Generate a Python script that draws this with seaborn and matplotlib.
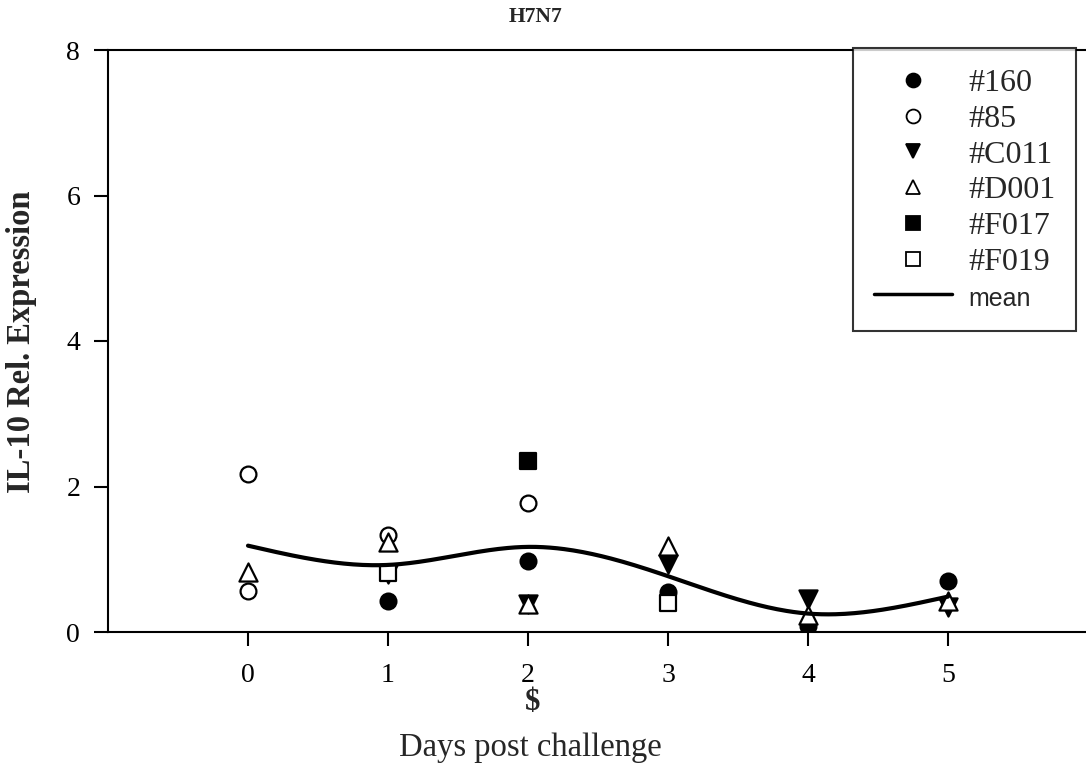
import numpy as np
import pandas as pd
import matplotlib
matplotlib.use("Agg")
import matplotlib.pyplot as plt
from matplotlib.lines import Line2D
import seaborn as sns

# IL-10 relative expression per animal and day after H7N7 challenge
animals = ["#160", "#85", "#C011", "#D001", "#F017", "#F019"]
days_160 = [1, 2, 3, 4, 5]
vals_160 = [0.43, 0.97, 0.55, 0.08, 0.70]
days_85 = [0, 0, 1, 2]
vals_85 = [2.17, 0.56, 1.33, 1.77]
days_c011 = [1, 2, 3, 4, 5]
vals_c011 = [0.80, 0.38, 0.94, 0.45, 0.34]
days_d001 = [0, 1, 2, 3, 4, 5]
vals_d001 = [0.83, 1.24, 0.38, 1.18, 0.23, 0.42]
days_f017 = [2]
vals_f017 = [2.35]
days_f019 = [1, 3]
vals_f019 = [0.81, 0.40]

x_ticks = [0, 1, 2, 3, 4, 5]
y_ticks = [0, 2, 4, 6, 8]

series = {
    "#160": (days_160, vals_160),
    "#85": (days_85, vals_85),
    "#C011": (days_c011, vals_c011),
    "#D001": (days_d001, vals_d001),
    "#F017": (days_f017, vals_f017),
    "#F019": (days_f019, vals_f019),
}
df = pd.concat(
    [pd.DataFrame({"day": d, "value": v, "animal": name}) for name, (d, v) in series.items()],
    ignore_index=True,
)

# daily mean, smoothed with a natural cubic spline
mean_df = df.groupby("day", as_index=False)["value"].mean()


def natural_spline(x, y, xs):
    x = np.asarray(x, float)
    y = np.asarray(y, float)
    n = len(x)
    h = np.diff(x)
    A = np.zeros((n, n))
    r = np.zeros(n)
    A[0, 0] = A[-1, -1] = 1.0
    for i in range(1, n - 1):
        A[i, i - 1] = h[i - 1]
        A[i, i] = 2 * (h[i - 1] + h[i])
        A[i, i + 1] = h[i]
        r[i] = 6 * ((y[i + 1] - y[i]) / h[i] - (y[i] - y[i - 1]) / h[i - 1])
    m = np.linalg.solve(A, r)
    idx = np.clip(np.searchsorted(x, xs) - 1, 0, n - 2)
    x0, x1 = x[idx], x[idx + 1]
    hh = x1 - x0
    t0 = x1 - xs
    t1 = xs - x0
    return (m[idx] * t0 ** 3 / (6 * hh) + m[idx + 1] * t1 ** 3 / (6 * hh)
            + (y[idx] / hh - m[idx] * hh / 6) * t0
            + (y[idx + 1] / hh - m[idx + 1] * hh / 6) * t1)


xs = np.linspace(mean_df["day"].min(), mean_df["day"].max(), 300)
smooth_df = pd.DataFrame({"day": xs, "value": natural_spline(mean_df["day"], mean_df["value"], xs)})

sns.set_theme(style="white")
plt.rcParams["font.family"] = ["Liberation Serif", "DejaVu Serif"]

markers = {"#160": "o", "#85": "o", "#C011": "v", "#D001": "^", "#F017": "s", "#F019": "s"}
fills = {"#160": "black", "#85": "white", "#C011": "black", "#D001": "white",
         "#F017": "black", "#F019": "white"}
sizes = {"o": 130, "v": 170, "^": 170, "s": 140}

fig = plt.figure(figsize=(10.86, 7.71), dpi=100)
ax = fig.add_axes([108 / 1086, 139 / 771, 980 / 1086, 582 / 771])

sns.lineplot(data=smooth_df, x="day", y="value", color="black", linewidth=3,
             ax=ax, zorder=3, legend=False)
for name in animals:
    sub = df[df["animal"] == name]
    sns.scatterplot(data=sub, x="day", y="value", marker=markers[name],
                    color=fills[name], edgecolor="black", linewidth=1.6,
                    s=sizes[markers[name]], ax=ax, zorder=2, legend=False)

ax.set_xlim(-1, 6)
ax.set_ylim(0, 8)
ax.set_xticks(x_ticks)
ax.set_yticks(y_ticks)
ax.tick_params(axis="both", direction="out", length=10, width=1.5, colors="black",
               labelsize=20)
ax.tick_params(axis="x", pad=12, bottom=True)
ax.tick_params(axis="y", pad=10, left=True)
for side in ["left", "bottom", "top", "right"]:
    ax.spines[side].set_color("black")
    ax.spines[side].set_linewidth(1.5)

ax.set_xlabel("")
ax.set_ylabel("")
fig.text(22 / 1086, 1 - 342 / 771, "IL-10 Rel. Expression", rotation=90,
         ha="center", va="center", fontsize=23.5, fontweight="bold")
fig.text(536 / 1086, 1 - 17 / 771, "H7N7", ha="center", va="center",
         fontsize=15.5, fontweight="bold")
fig.text(533 / 1086, 1 - 702 / 771, "$", ha="center", va="center",
         fontsize=22, fontweight="bold")
fig.text(530 / 1086, 1 - 748 / 771, "Days post challenge", ha="center", va="center",
         fontsize=23.5)

handles = [Line2D([], [], linestyle="none", marker=markers[n], markersize=10,
                  markerfacecolor=fills[n], markeredgecolor="black", markeredgewidth=1.3)
           for n in animals]
handles.append(Line2D([], [], color="black", linewidth=2.5))
labels = animals + ["mean"]
leg = ax.legend(handles, labels, loc="upper left",
                bbox_to_anchor=(853 / 1086, 1 - 48 / 771), bbox_transform=fig.transFigure,
                fontsize=23, frameon=True, fancybox=False, edgecolor="black",
                handlelength=2.45, handletextpad=0.5, borderpad=0.65, labelspacing=0.2,
                borderaxespad=0)
leg.get_frame().set_linewidth(1.5)
leg.get_texts()[-1].set_family("Liberation Sans")
leg.get_texts()[-1].set_fontsize(18)

fig.savefig("out.png", dpi=100)
